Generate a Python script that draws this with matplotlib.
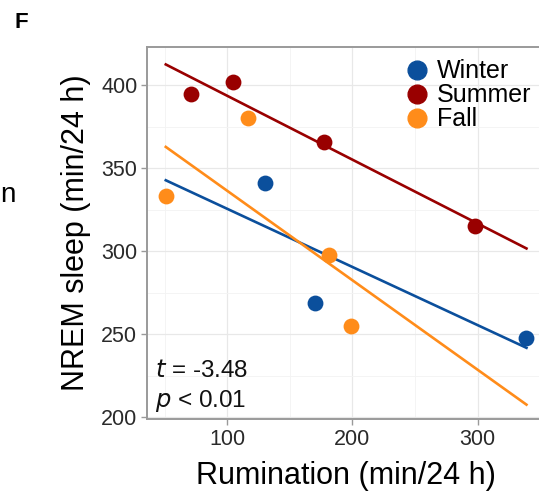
import numpy as np
import matplotlib.pyplot as plt
from matplotlib.lines import Line2D

plt.rcParams['font.family'] = ['Liberation Sans', 'DejaVu Sans']

# rumination vs NREM sleep, per season
winter_x = [130, 170, 339]
winter_y = [341, 269, 248]
summer_x = [71, 105, 177, 298]
summer_y = [395, 402, 366, 315]
fall_x = [51, 117, 181, 199]
fall_y = [333, 380, 298, 255]

seasons = ["Winter", "Summer", "Fall"]
colors = {"Winter": "#0b4f9c", "Summer": "#990000", "Fall": "#ff8c1a"}
data = {"Winter": (winter_x, winter_y),
        "Summer": (summer_x, summer_y),
        "Fall": (fall_x, fall_y)}

fig = plt.figure(figsize=(5.39, 4.92), dpi=100)
ax = fig.add_axes([147/539, 1-419/492, (544-147)/539, (419-47)/492])

allx = winter_x + summer_x + fall_x
xr = np.array([min(allx), max(allx)])

for s in seasons:
    x, y = data[s]
    k, b = np.polyfit(x, y, 1)
    ax.plot(xr, k*xr + b, color=colors[s], lw=1.9, zorder=2)
for s in seasons:
    x, y = data[s]
    ax.scatter(x, y, s=130, color=colors[s], zorder=3, linewidths=0)

ax.set_xlim(36, 353)
ax.set_ylim(199, 423)
ax.set_xticks([100, 200, 300])
ax.set_yticks([200, 250, 300, 350, 400])
ax.set_xticks([50, 150, 250], minor=True)
ax.set_yticks([225, 275, 325, 375], minor=True)
ax.grid(True, which='major', color='#e8e8e8', lw=0.9)
ax.grid(True, which='minor', color='#f3f3f3', lw=0.6)
ax.set_axisbelow(True)
for sp in ax.spines.values():
    sp.set_color('#9a9a9a')
    sp.set_linewidth(1.4)
ax.tick_params(which='major', length=4, width=1, color='#9a9a9a',
               labelsize=15.5, labelcolor='#2a2a2a', pad=3)
ax.tick_params(which='minor', length=0)

ax.set_xlabel("Rumination (min/24 h)", fontsize=22, labelpad=8)
ax.set_ylabel("NREM sleep (min/24 h)", fontsize=22, labelpad=7)

fig.text(155/539, 1-377/492, "$t$ = -3.48", fontsize=17.5, color='#111111')
fig.text(155/539, 1-407/492, "$p$ < 0.01", fontsize=17.5, color='#111111')

handles = [Line2D([], [], marker='o', ls='', color=colors[s], markersize=13.5)
           for s in seasons]
fig.legend(handles, seasons, loc='upper left', bbox_to_anchor=(391/539, 1-47/492),
           frameon=False, fontsize=18, handletextpad=0.25, labelspacing=0.0,
           borderpad=0, handlelength=1.1)

fig.text(21/539, 1-23/492, "F", fontsize=16, fontweight='bold', ha='center', va='center')
fig.text(0, 1-195/492, "n", fontsize=20, ha='left', va='center')

fig.savefig("out.png", dpi=100)
